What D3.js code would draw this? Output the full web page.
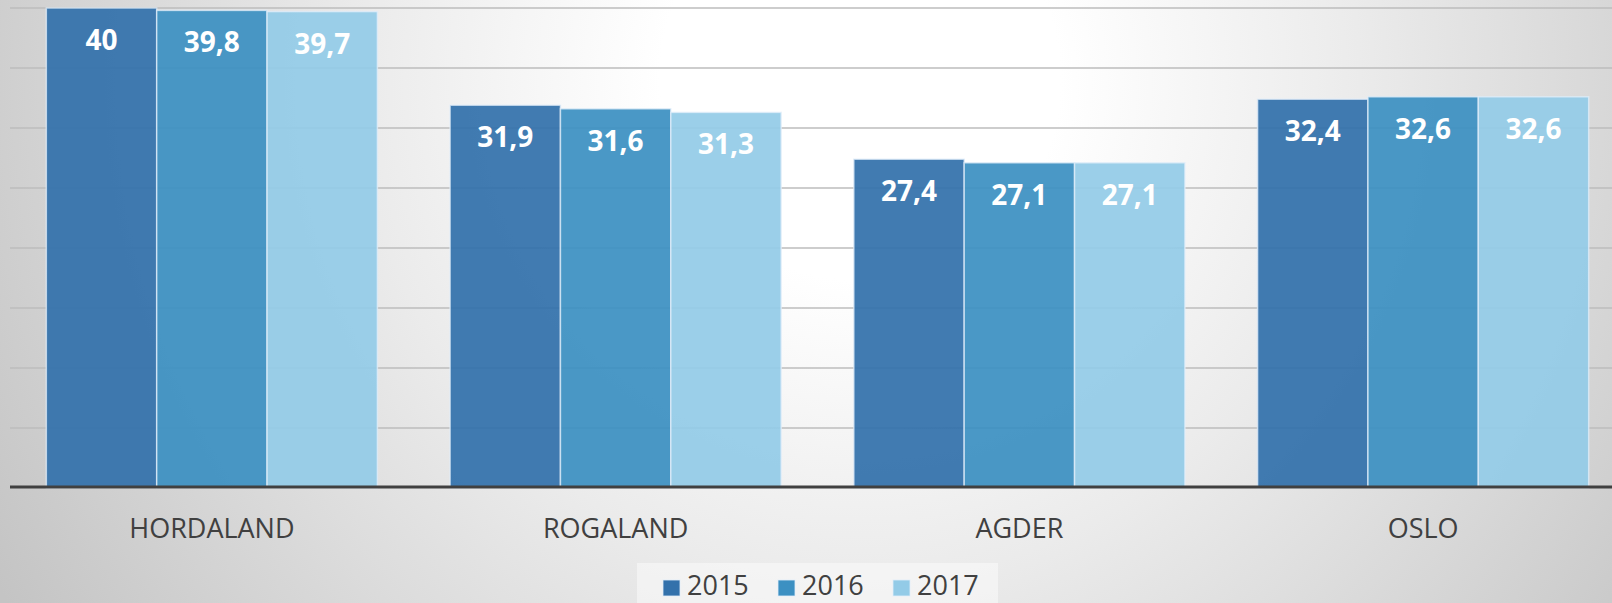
<!DOCTYPE html>
<html><head><meta charset="utf-8">
<script src="https://cdn.jsdelivr.net/npm/d3@7"></script>
<style>html,body{margin:0;padding:0;overflow:hidden;background:#fff}svg{display:block}</style>
</head><body>
<svg id="chart" width="1612" height="603"></svg>
<script>
const categories = ["HORDALAND", "ROGALAND", "AGDER", "OSLO"];
const seriesNames = ["2015", "2016", "2017"];
const values2015 = [40, 31.9, 27.4, 32.4];
const values2016 = [39.8, 31.6, 27.1, 32.6];
const values2017 = [39.7, 31.3, 27.1, 32.6];
const yTicks = [0, 5, 10, 15, 20, 25, 30, 35, 40];
const colors = ["#3371ab", "#3c90c2", "#93cbe7"];

const seriesValues = [values2015, values2016, values2017];
const data = categories.map((c, i) => ({
  cat: c,
  vals: seriesNames.map((s, j) => ({ s, j, v: seriesValues[j][i] }))
}));

const svg = d3.select("#chart");
const W = 1612, H = 603;

const defs = svg.append("defs");
const rg = defs.append("radialGradient").attr("id", "bg")
  .attr("gradientUnits", "userSpaceOnUse")
  .attr("cx", 860).attr("cy", 80).attr("r", 1000);
rg.append("stop").attr("offset", 0).attr("stop-color", "#ffffff");
rg.append("stop").attr("offset", 0.2).attr("stop-color", "#ffffff");
rg.append("stop").attr("offset", 0.5).attr("stop-color", "#ebebeb");
rg.append("stop").attr("offset", 1).attr("stop-color", "#c4c4c4");
svg.append("rect").attr("width", W).attr("height", H).attr("fill", "url(#bg)");

const x0 = d3.scaleBand().domain(categories).range([10, 1625]).paddingInner(0.18).paddingOuter(0.09);
const x1 = d3.scaleBand().domain(seriesNames).range([0, x0.bandwidth()]).padding(0);
const y = d3.scaleLinear().domain([0, 40]).range([488, 8]);

// gridlines
svg.append("g").selectAll("line").data(yTicks.slice(1)).join("line")
  .attr("x1", 10).attr("x2", W)
  .attr("y1", d => y(d)).attr("y2", d => y(d))
  .attr("stroke", "#bdbdbd").attr("stroke-width", 1.5);

// bars
const groups = svg.append("g").selectAll("g").data(data).join("g")
  .attr("transform", d => `translate(${x0(d.cat)},0)`);
groups.selectAll("rect").data(d => d.vals).join("rect")
  .attr("x", d => x1(d.s)).attr("width", x1.bandwidth())
  .attr("y", d => y(d.v)).attr("height", d => y(0) - y(d.v))
  .attr("fill", d => colors[d.j]).attr("fill-opacity", 0.93)
  .attr("stroke", "rgba(225,238,250,0.75)").attr("stroke-width", 1.5);
groups.selectAll("text").data(d => d.vals).join("text")
  .attr("x", d => x1(d.s) + x1.bandwidth() / 2)
  .attr("y", d => y(d.v) + 42)
  .attr("text-anchor", "middle")
  .attr("font-family", "'Open Sans', sans-serif")
  .attr("font-weight", 700).attr("font-size", 28).attr("fill", "#ffffff")
  .text(d => String(d.v).replace(".", ","));

// axis line
svg.append("line").attr("x1", 10).attr("x2", W)
  .attr("y1", 487).attr("y2", 487)
  .attr("stroke", "#404040").attr("stroke-width", 3.2);

// category labels
const xAxis = d3.axisBottom(x0).tickSize(0).tickPadding(0);
const gx = svg.append("g").attr("transform", "translate(0,538)").call(xAxis);
gx.select(".domain").remove();
gx.selectAll("text")
  .attr("dy", 0).attr("y", 0)
  .attr("font-family", "'Open Sans', sans-serif")
  .attr("font-size", 27).attr("fill", "#404040");

// legend
svg.append("rect").attr("x", 637).attr("y", 563).attr("width", 361).attr("height", 45)
  .attr("fill", "#ffffff").attr("fill-opacity", 0.45);
const leg = svg.append("g").selectAll("g").data(seriesNames).join("g")
  .attr("transform", (d, i) => `translate(${663 + i * 115},0)`);
leg.append("rect").attr("x", 0).attr("y", 580).attr("width", 17).attr("height", 16)
  .attr("fill", (d, i) => colors[i]).attr("stroke", "rgba(225,238,250,0.8)").attr("stroke-width", 1);
leg.append("text").attr("x", 24).attr("y", 595)
  .attr("font-family", "'Open Sans', sans-serif")
  .attr("font-size", 27).attr("fill", "#404040")
  .text(d => d);
</script>
</body></html>
